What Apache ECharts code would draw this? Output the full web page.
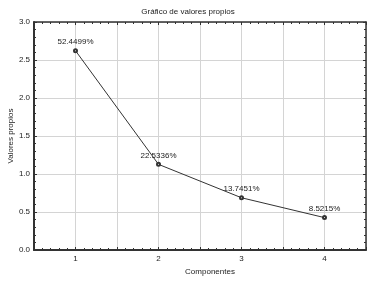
<!DOCTYPE html>
<html>
<head>
<meta charset="utf-8">
<script src="https://cdn.jsdelivr.net/npm/echarts@6/dist/echarts.min.js"></script>
<style>
  html, body { margin: 0; padding: 0; background: #fff; }
  #chart { width: 376px; height: 283px; }
</style>
</head>
<body>
<div id="chart"></div>
<script>
// valores propios
const componentes = [1, 2, 3, 4]
const valoresPropios = [2.6225, 1.1267, 0.6873, 0.4261]
const porcentajes = ['52.4499%', '22.5336%', '13.7451%', '8.5215%']

const fontFam = '"Liberation Sans", Arial, sans-serif'
const axisCol = '#333'
const gridCol = '#d4d4d4'

const seriesData = componentes.map((c, i) => [c, valoresPropios[i]])

// eje sin etiquetas para cerrar el marco (arriba / derecha)
function frameAxis(pos, isX) {
  return {
    type: 'value',
    position: pos,
    min: isX ? 0.5 : 0,
    max: isX ? 4.5 : 3,
    interval: 0.5,
    axisLine: { show: true, onZero: false, lineStyle: { color: axisCol, width: 1.5 } },
    axisTick: { show: true, inside: true, length: 3, lineStyle: { color: axisCol } },
    minorTick: { show: true, splitNumber: 5, length: 2, lineStyle: { color: axisCol } },
    axisLabel: { show: false },
    splitLine: { show: false }
  }
}

const chart = echarts.init(document.getElementById('chart'))
const option = {
  backgroundColor: '#fff',
  animation: false,
  title: {
    text: 'Gráfico de valores propios',
    left: 'center',
    top: 3,
    textStyle: { fontFamily: fontFam, fontSize: 8, fontWeight: 'normal', color: '#222' }
  },
  grid: { left: 34, right: 10, top: 22, bottom: 33, containLabel: false, outerBoundsMode: 'none' },
  xAxis: [{
    type: 'value',
    min: 0.5,
    max: 4.5,
    interval: 0.5,
    name: 'Componentes',
    nameLocation: 'middle',
    nameGap: 18,
    nameMoveOverlap: false,
    nameTextStyle: { fontFamily: fontFam, fontSize: 8, color: '#222', padding: [0, 0, 0, 20] },
    axisLine: { show: true, onZero: false, lineStyle: { color: axisCol, width: 2 } },
    axisTick: { show: true, inside: true, length: 3, lineStyle: { color: axisCol } },
    minorTick: { show: true, splitNumber: 5, length: 2, lineStyle: { color: axisCol } },
    axisLabel: {
      fontFamily: fontFam, fontSize: 8, color: '#222', margin: 5,
      formatter: v => (Number.isInteger(v) ? String(v) : '')
    },
    splitLine: { show: true, lineStyle: { color: gridCol, width: 1 } }
  }, frameAxis('top', true)],
  yAxis: [{
    type: 'value',
    min: 0,
    max: 3,
    interval: 0.5,
    name: 'Valores propios',
    nameLocation: 'middle',
    nameGap: 19,
    nameMoveOverlap: false,
    nameTextStyle: { fontFamily: fontFam, fontSize: 8, color: '#222' },
    axisLine: { show: true, onZero: false, lineStyle: { color: axisCol, width: 2 } },
    axisTick: { show: true, inside: true, length: 3, lineStyle: { color: axisCol } },
    minorTick: { show: true, splitNumber: 5, length: 2, lineStyle: { color: axisCol } },
    axisLabel: {
      fontFamily: fontFam, fontSize: 8, color: '#222', margin: 4,
      formatter: v => v.toFixed(1)
    },
    splitLine: { show: true, lineStyle: { color: gridCol, width: 1 } }
  }, frameAxis('right', false)],
  series: [{
    type: 'line',
    data: seriesData,
    xAxisIndex: 0,
    yAxisIndex: 0,
    symbol: 'emptyCircle',
    symbolSize: 3,
    lineStyle: { color: '#333', width: 1 },
    itemStyle: { color: '#333', borderColor: '#333', borderWidth: 0.8 },
    label: {
      show: true,
      position: 'top',
      distance: 2,
      fontFamily: fontFam,
      fontSize: 8,
      color: '#222',
      formatter: p => porcentajes[p.dataIndex]
    }
  }]
}
chart.setOption(option)
</script>
</body>
</html>
